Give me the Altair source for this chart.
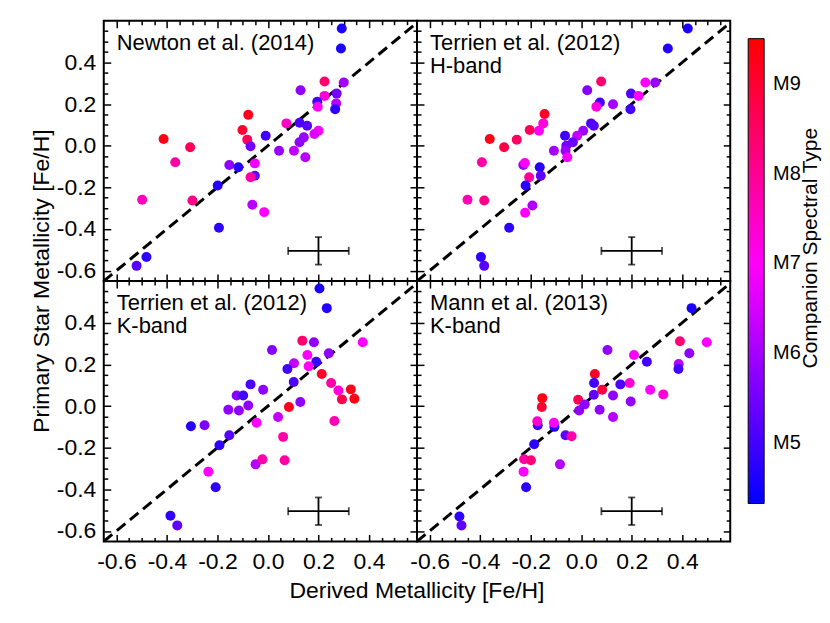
import altair as alt
import pandas as pd

FONT = "Liberation Sans"

# ---------------- data ----------------
panel_labels = [
    "Newton et al. (2014)",
    "Terrien et al. (2012)\nH-band",
    "Terrien et al. (2012)\nK-band",
    "Mann et al. (2013)\nK-band",
]

tl_x = [0.292, 0.289, 0.224, 0.300, 0.129, 0.272, 0.224, 0.195, 0.197, 0.270, 0.266, -0.078, 0.073, 0.125,
        0.155, -0.101, 0.200, 0.184, 0.142, 0.125, -0.413, -0.082, -0.009, -0.069, -0.308, 0.044, 0.103,
        0.148, -0.367, -0.153, -0.117, -0.052, -0.052, -0.069, -0.199, -0.498, -0.299, -0.062, -0.015,
        -0.194, -0.481, -0.520]
tl_y = [0.563, 0.467, 0.308, 0.303, 0.266, 0.250, 0.239, 0.211, 0.187, 0.203, 0.175, 0.148, 0.107, 0.110,
        0.096, 0.075, 0.072, 0.056, 0.040, 0.016, 0.032, 0.029, 0.048, -0.003, -0.008, -0.024, -0.024,
        -0.056, -0.080, -0.093, -0.104, -0.085, -0.144, -0.152, -0.191, -0.260, -0.263, -0.284, -0.319,
        -0.394, -0.534, -0.577]
tl_s = [4.6, 4.6, 8.4, 6.0, 5.8, 5.5, 7.3, 5.0, 6.9, 6.2, 4.8, 9.2, 7.5, 5.1, 5.2, 9.0, 6.9, 6.6, 5.9, 5.8,
        9.3, 8.6, 5.0, 5.5, 8.6, 5.9, 6.3, 6.2, 7.8, 5.8, 4.7, 6.8, 5.3, 7.8, 4.7, 7.6, 8.1, 6.2, 6.9, 4.8,
        4.8, 5.2]

tr_x = [0.422, 0.343, 0.079, 0.024, 0.254, 0.293, 0.197, 0.227, 0.074, 0.060, 0.126, 0.195, -0.145, -0.150,
        -0.167, -0.204, -0.362, -0.255, -0.305, 0.039, 0.050, 0.008, -0.016, -0.064, -0.033, -0.059, -0.062,
        -0.108, -0.055, -0.393, -0.229, -0.223, -0.164, -0.160, -0.206, -0.220, -0.450, -0.384, -0.193,
        -0.222, -0.285, -0.397, -0.384]
tr_y = [0.563, 0.467, 0.308, 0.266, 0.303, 0.303, 0.250, 0.239, 0.207, 0.187, 0.199, 0.175, 0.152, 0.107,
        0.072, 0.075, 0.032, 0.029, -0.008, 0.107, 0.096, 0.072, 0.048, 0.048, 0.016, 0.000, -0.024, -0.024,
        -0.056, -0.080, -0.093, -0.083, -0.104, -0.144, -0.152, -0.191, -0.260, -0.263, -0.287, -0.322,
        -0.394, -0.534, -0.577]
tr_s = [4.6, 4.7, 8.4, 5.7, 6.9, 5.9, 5.1, 6.9, 5.0, 7.2, 6.0, 5.0, 9.1, 7.3, 6.9, 8.6, 9.3, 8.5, 8.8, 5.1,
        5.2, 5.9, 6.3, 5.0, 5.4, 5.5, 5.9, 6.0, 6.8, 7.8, 5.8, 7.0, 4.7, 5.3, 7.9, 4.8, 7.7, 8.1, 6.1, 6.9,
        4.8, 4.8, 5.2]

bl_x = [0.204, 0.233, 0.136, 0.182, 0.375, 0.016, 0.241, 0.156, 0.191, 0.103, 0.161, 0.077, 0.213, 0.102,
        0.250, -0.069, -0.019, 0.279, 0.328, -0.124, -0.098, 0.293, 0.342, -0.078, 0.083, 0.128, -0.157,
        -0.115, 0.040, -0.045, 0.263, -0.305, -0.251, -0.153, 0.060, -0.192, -0.049, -0.022, 0.066, -0.236,
        -0.207, -0.386, -0.359]
bl_y = [0.564, 0.470, 0.314, 0.306, 0.306, 0.269, 0.253, 0.245, 0.213, 0.205, 0.191, 0.178, 0.154, 0.115,
        0.111, 0.104, 0.078, 0.075, 0.080, 0.051, 0.051, 0.032, 0.035, 0.003, -0.005, 0.019, -0.018, -0.021,
        -0.053, -0.080, -0.072, -0.097, -0.092, -0.140, -0.148, -0.188, -0.280, -0.256, -0.260, -0.315,
        -0.390, -0.527, -0.573]
bl_s = [4.6, 4.7, 8.4, 5.8, 6.9, 5.7, 5.8, 6.9, 4.9, 6.3, 7.0, 5.0, 9.1, 5.1, 7.8, 5.1, 5.8, 7.3, 9.2, 5.7,
        5.0, 8.7, 9.3, 5.8, 9.2, 5.8, 5.8, 5.8, 6.3, 6.9, 7.7, 4.7, 5.6, 5.2, 7.8, 4.8, 6.2, 7.8, 7.8, 6.9,
        4.8, 4.8, 5.3]

br_x = [0.437, 0.391, 0.497, 0.104, 0.209, 0.428, 0.260, 0.386, 0.385, 0.054, 0.051, 0.192, 0.155, 0.083,
        0.273, 0.325, 0.050, 0.126, -0.154, -0.012, 0.196, 0.014, -0.156, -0.008, 0.073, 0.126, -0.172,
        -0.174, -0.106, -0.108, -0.062, -0.038, -0.186, -0.226, -0.199, -0.084, -0.228, -0.218, -0.482,
        -0.474]
br_y = [0.470, 0.311, 0.306, 0.269, 0.245, 0.253, 0.213, 0.202, 0.178, 0.154, 0.111, 0.111, 0.104, 0.078,
        0.078, 0.056, 0.054, 0.051, 0.038, 0.030, 0.022, 0.008, -0.005, -0.021, -0.018, -0.053, -0.092,
        -0.073, -0.100, -0.080, -0.140, -0.145, -0.183, -0.255, -0.260, -0.280, -0.315, -0.390, -0.530,
        -0.573]
br_s = [4.6, 8.3, 6.9, 5.8, 6.9, 5.8, 5.0, 6.2, 5.0, 9.1, 5.0, 7.4, 5.1, 8.9, 6.9, 7.3, 5.3, 5.8, 9.3, 8.7,
        5.8, 5.8, 9.0, 5.8, 5.8, 6.2, 5.0, 7.4, 4.7, 6.9, 5.3, 7.8, 4.8, 7.8, 8.3, 6.2, 6.9, 4.8, 4.8, 5.3]

# typical error bar (centre and half-widths)
err_center = [0.2, -0.505]
err_half = [0.12, 0.066]

# one-to-one line
one_to_one = [-0.65, 0.6]

# axis tick values
major_ticks = [-0.6, -0.4, -0.2, 0.0, 0.2, 0.4]
minor_ticks = [-0.55, -0.5, -0.45, -0.35, -0.3, -0.25, -0.15, -0.1, -0.05,
               0.05, 0.1, 0.15, 0.25, 0.3, 0.35, 0.45, 0.5, 0.55]

spt_ticks = [5, 6, 7, 8, 9]
spt_stops = [4.33, 6.92, 9.5]          # colour-bar stops (bottom, middle, top)
spt_colors = ["#0000ff", "#ff00ff", "#ff0000"]

# ---------------- build ----------------
X_DOM = [-0.65, 0.59]
Y_DOM = [-0.65, 0.6]
W, H = 314, 261
MAJ, MIN = 7, 4

xs = alt.Scale(domain=X_DOM, nice=False, zero=False)
ys = alt.Scale(domain=Y_DOM, nice=False, zero=False)
cscale = alt.Scale(domain=spt_stops, range=spt_colors, interpolate="rgb")

LABEL_EXPR = "datum.value < 0 ? '-' + format(-datum.value, '.1f') : format(datum.value, '.1f')"

legend = alt.Legend(
    orient="none", legendX=646, legendY=18, direction="vertical", title=None,
    gradientLength=466, gradientThickness=16, values=spt_ticks,
    labelExpr="'M' + datum.value", labelFontSize=20, labelOffset=9, labelFont=FONT,
    labelColor="black", gradientStrokeColor="black", gradientStrokeWidth=1,
    labelOverlap=False, padding=0,
)


def ax(orient, values, size, labels=False):
    kw = dict(orient=orient, values=values, offset=-size, tickSize=size, domain=False, grid=False,
              labels=labels, title=None, tickColor="black", tickWidth=1.5)
    if labels:
        kw.update(labelExpr=LABEL_EXPR, labelFontSize=23, labelFont=FONT, labelColor="black",
                  labelFlush=False, labelOverlap=False,
                  labelPadding=9 if orient in ("bottom", "top") else 8)
    return alt.Axis(**kw)


def panel(xv, yv, sv, label, row, col):
    pts = pd.DataFrame({"x": xv, "y": yv, "spt": sv})
    line_df = pd.DataFrame({"x": one_to_one, "y": one_to_one})
    cx, cy = err_center
    hx, hy = err_half
    err_df = pd.DataFrame({"xc": [cx], "yc": [cy], "x1": [cx - hx], "x2": [cx + hx],
                           "y1": [cy - hy], "y2": [cy + hy]})
    hcap_df = pd.DataFrame({"x": [cx - hx, cx + hx], "y": [cy, cy]})
    vcap_df = pd.DataFrame({"x": [cx, cx], "y": [cy - hy, cy + hy]})

    line = alt.Chart(line_df).mark_line(strokeDash=[11, 6], strokeWidth=3, color="black", clip=True).encode(
        x=alt.X("x:Q", scale=xs, axis=ax("bottom", major_ticks, MAJ, labels=(row == 1))),
        y=alt.Y("y:Q", scale=ys, axis=ax("left", major_ticks, MAJ, labels=(col == 0))),
    )
    hbar = alt.Chart(err_df).mark_rule(color="black", strokeWidth=1.8).encode(
        x=alt.X("x1:Q", scale=xs, axis=ax("top", major_ticks, MAJ)), x2="x2:Q",
        y=alt.Y("yc:Q", scale=ys, axis=ax("right", major_ticks, MAJ)),
    )
    vbar = alt.Chart(err_df).mark_rule(color="black", strokeWidth=1.8).encode(
        x=alt.X("xc:Q", scale=xs, axis=ax("bottom", minor_ticks, MIN)),
        y=alt.Y("y1:Q", scale=ys, axis=ax("left", minor_ticks, MIN)), y2="y2:Q",
    )
    hcap = alt.Chart(hcap_df).mark_tick(orient="vertical", size=8, thickness=1.8, color="black").encode(
        x=alt.X("x:Q", scale=xs, axis=ax("top", minor_ticks, MIN)),
        y=alt.Y("y:Q", scale=ys, axis=ax("right", minor_ticks, MIN)),
    )
    vcap = alt.Chart(vcap_df).mark_tick(orient="horizontal", size=7, thickness=1.8, color="black").encode(
        x=alt.X("x:Q", scale=xs, axis=None),
        y=alt.Y("y:Q", scale=ys, axis=None),
    )
    circles = alt.Chart(pts).mark_circle(size=100, opacity=1).encode(
        x=alt.X("x:Q", scale=xs, axis=None),
        y=alt.Y("y:Q", scale=ys, axis=None),
        color=alt.Color("spt:Q", scale=cscale, legend=legend),
    )
    txt = alt.Chart(pd.DataFrame({"t": [label]})).mark_text(
        align="left", baseline="alphabetic", fontSize=22, lineBreak="\n", lineHeight=23,
        font=FONT, color="black").encode(x=alt.value(13), y=alt.value(29), text="t:N")

    layers = [line, hbar, vbar, hcap, vcap, circles, txt]
    if row == 0 and col == 0:
        layers.append(alt.Chart(pd.DataFrame({"t": ["Primary Star Metallicity [Fe/H]"]})).mark_text(
            angle=270, align="center", baseline="middle", fontSize=23, font=FONT, color="black"
        ).encode(x=alt.value(-62), y=alt.value(H), text="t:N"))
    if row == 1 and col == 0:
        layers.append(alt.Chart(pd.DataFrame({"t": ["Derived Metallicity [Fe/H]"]})).mark_text(
            align="center", baseline="alphabetic", fontSize=23, font=FONT, color="black"
        ).encode(x=alt.value(W), y=alt.value(H + 57), text="t:N"))
    if row == 0 and col == 1:
        layers.append(alt.Chart(pd.DataFrame({"t": ["Companion Spectral Type"]})).mark_text(
            angle=270, align="center", baseline="middle", fontSize=21, font=FONT, color="black"
        ).encode(x=alt.value(395), y=alt.value(228), text="t:N"))

    return alt.layer(*layers).resolve_axis(x="independent", y="independent").properties(width=W, height=H)


panels = [
    panel(tl_x, tl_y, tl_s, panel_labels[0], 0, 0),
    panel(tr_x, tr_y, tr_s, panel_labels[1], 0, 1),
    panel(bl_x, bl_y, bl_s, panel_labels[2], 1, 0),
    panel(br_x, br_y, br_s, panel_labels[3], 1, 1),
]

chart = alt.concat(*panels, columns=2, spacing=0, bounds="flush").properties(
    padding={"left": 21, "top": 10, "right": 0, "bottom": 4}
).configure(font=FONT).configure_view(stroke="black", strokeWidth=2)

chart.save("out.html", embed_options={"renderer": "svg", "actions": False})
